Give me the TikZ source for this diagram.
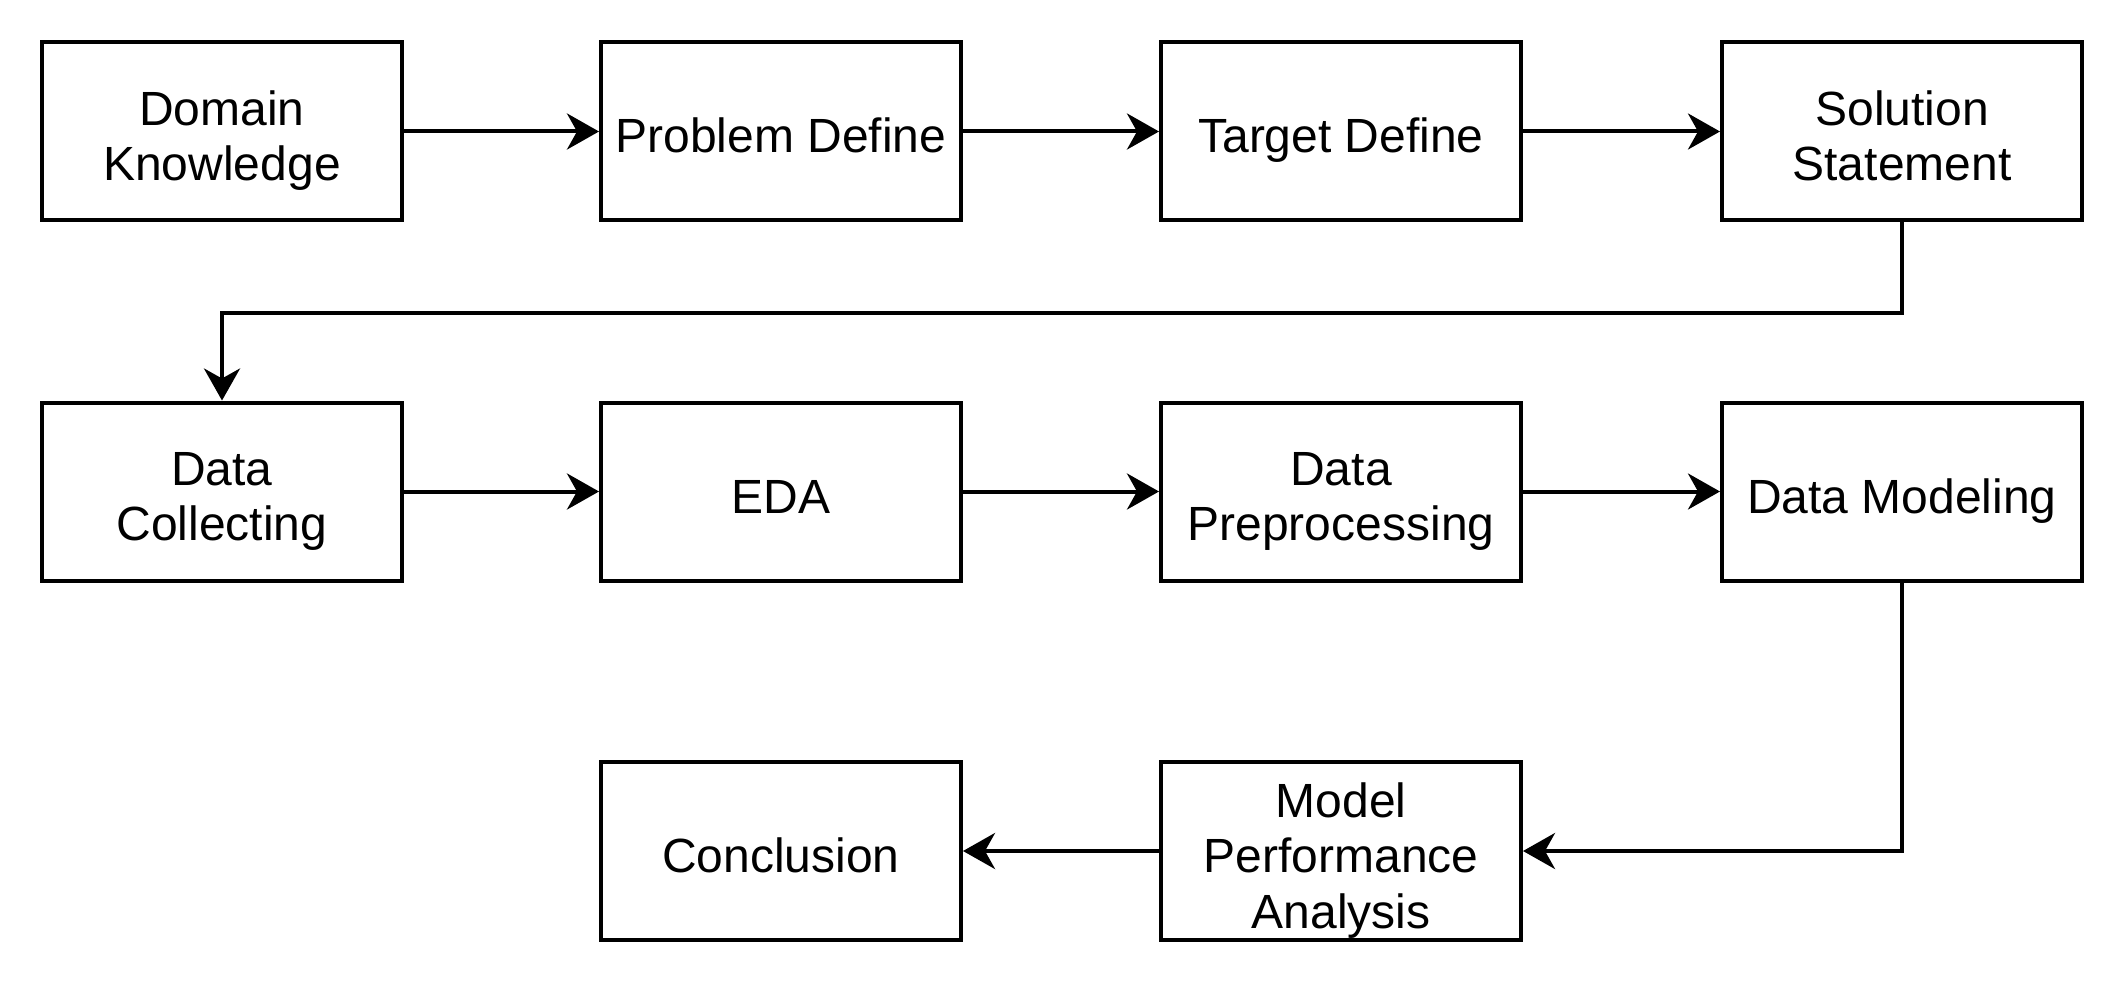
\documentclass[tikz,border=0pt]{standalone}
\usepackage{fontspec}
\setmainfont{Liberation Sans}
\usetikzlibrary{arrows.meta}
% #1: offset of first baseline below box centre (pt), #2: lines
\newcommand\ml[2]{\rule[\dimexpr #1pt-50pt\relax]{0pt}{100pt}\smash{\begin{tabular}[t]{@{}c@{}}#2\end{tabular}}}
\begin{document}
\begin{tikzpicture}[x=1pt,y=-1pt,
  box/.style={draw=black,line width=4pt,rectangle,minimum width=360pt,minimum height=178pt,inner sep=0pt,font=\fontsize{48}{55.5}\selectfont},
  conn/.style={line width=4pt,-{Stealth[length=32pt,width=36pt,inset=10pt]}}]
\useasboundingbox[fill=white] (0,0) rectangle (2124,984);
\node[box] (dk) at (222,131.5) {\ml{-6.25}{Domain\\Knowledge}};
\node[box] (pd) at (781,131.5) {\ml{21.5}{Problem Define}};
\node[box] (td) at (1341,131.5) {\ml{21.5}{Target Define}};
\node[box] (ss) at (1902,131.5) {\ml{-6.25}{Solution\\Statement}};
\node[box] (dc) at (222,491.5) {\ml{-6.25}{Data\\Collecting}};
\node[box] (eda) at (781,491.5) {\ml{21.5}{EDA}};
\node[box] (dp) at (1341,491.5) {\ml{-6.25}{Data\\Preprocessing}};
\node[box] (dm) at (1902,491.5) {\ml{21.5}{Data Modeling}};
\node[box] (cn) at (781,851) {\ml{21.5}{Conclusion}};
\node[box] (mp) at (1341,851) {\ml{-34}{Model\\Performance\\Analysis}};
\draw[conn] (dk) -- (pd);
\draw[conn] (pd) -- (td);
\draw[conn] (td) -- (ss);
\draw[conn] (ss.south) -- ++(0,90.5) -| (dc.north);
\draw[conn] (dc) -- (eda);
\draw[conn] (eda) -- (dp);
\draw[conn] (dp) -- (dm);
\draw[conn] (dm.south) |- (mp.east);
\draw[conn] (mp) -- (cn);
\end{tikzpicture}
\end{document}
